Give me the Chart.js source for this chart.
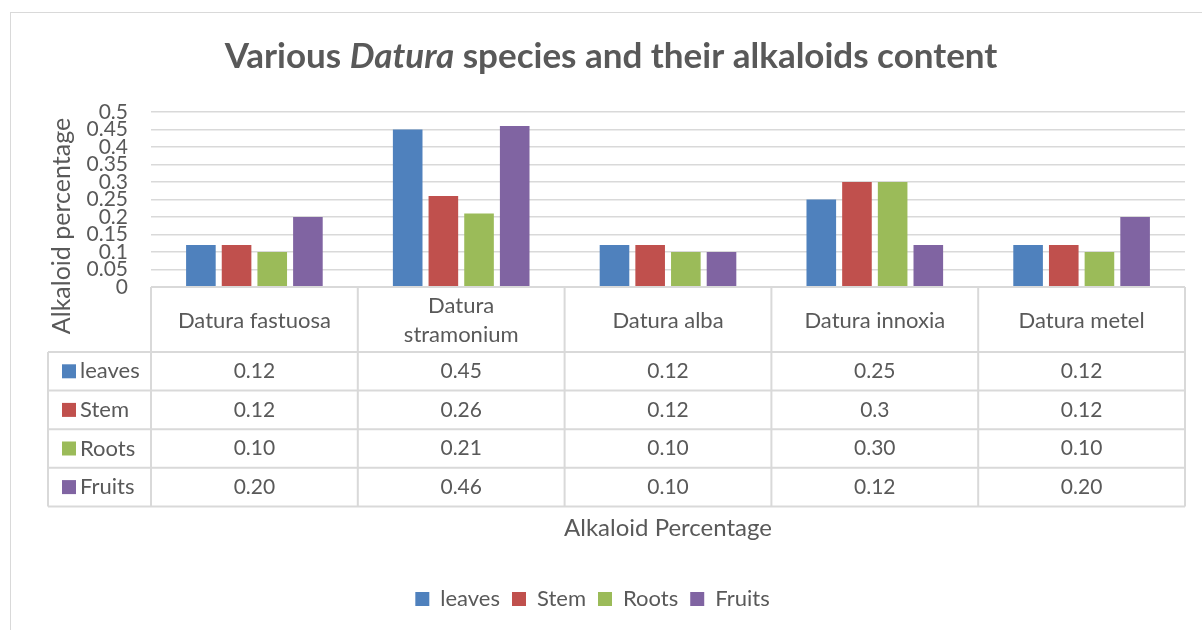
<!DOCTYPE html>
<html><head><meta charset="utf-8">
<script src="https://cdn.jsdelivr.net/npm/chart.js@4"></script>
<style>html,body{margin:0;padding:0;background:#fff}#wrap{width:1202px;height:630px}</style>
</head><body><div id="wrap"><canvas id="c" width="1202" height="630"></canvas></div>
<script>
const categories = ['Datura fastuosa', 'Datura stramonium', 'Datura alba', 'Datura innoxia', 'Datura metel'];
const categoryLines = [['Datura fastuosa'], ['Datura', 'stramonium'], ['Datura alba'], ['Datura innoxia'], ['Datura metel']];
const seriesNames = ['leaves', 'Stem', 'Roots', 'Fruits'];
const leaves = [0.12, 0.45, 0.12, 0.25, 0.12];
const stem = [0.12, 0.26, 0.12, 0.30, 0.12];
const roots = [0.10, 0.21, 0.10, 0.30, 0.10];
const fruits = [0.20, 0.46, 0.10, 0.12, 0.20];
const leavesText = ['0.12', '0.45', '0.12', '0.25', '0.12'];
const stemText = ['0.12', '0.26', '0.12', '0.3', '0.12'];
const rootsText = ['0.10', '0.21', '0.10', '0.30', '0.10'];
const fruitsText = ['0.20', '0.46', '0.10', '0.12', '0.20'];
const yTickLabels = ['0', '0.05', '0.1', '0.15', '0.2', '0.25', '0.3', '0.35', '0.4', '0.45', '0.5'];
const colors = ['#4f81bd', '#c0504d', '#9bbb59', '#8064a2'];
const titleParts = [['Various ', 'normal'], ['Datura', 'italic'], [' species and their alkaloids content', 'normal']];
const yTitle = 'Alkaloid percentage';
const xTitle = 'Alkaloid Percentage';

const FONT = 'Lato';
const TXT = '#595959';
const LINE = '#d9d9d9';

const seriesValues = [leaves, stem, roots, fruits];
const seriesText = [leavesText, stemText, rootsText, fruitsText];

const decor = {
  id: 'decor',
  beforeDraw(chart) {
    const ctx = chart.ctx;
    ctx.save();
    ctx.fillStyle = '#fff';
    ctx.fillRect(0, 0, chart.width, chart.height);
    ctx.strokeStyle = LINE;
    ctx.lineWidth = 1;
    ctx.strokeRect(10.5, 12.5, 1300, 700);
    ctx.restore();
  },
  afterDraw(chart) {
    const ctx = chart.ctx;
    const area = chart.chartArea;
    const xs = chart.scales.x;
    const n = categories.length;
    const cw = (area.right - area.left) / n;
    ctx.save();
    // title
    ctx.fillStyle = TXT;
    ctx.textBaseline = 'middle';
    let total = 0;
    const widths = titleParts.map(([t, s]) => {
      ctx.font = `${s} bold 35px ${FONT}`;
      const w = ctx.measureText(t).width; total += w; return w;
    });
    let tx = 611 - total / 2;
    titleParts.forEach(([t, s], i) => {
      ctx.font = `${s} bold 35px ${FONT}`;
      ctx.textAlign = 'left';
      ctx.fillText(t, tx, 57);
      tx += widths[i];
    });
    // y title
    ctx.save();
    ctx.translate(62, 226);
    ctx.rotate(-Math.PI / 2);
    ctx.font = `25px ${FONT}`;
    ctx.textAlign = 'center';
    ctx.fillText(yTitle, 0, 0);
    ctx.restore();
    // table
    const top = area.bottom;
    const headBottom = top + 65;
    const rowH = 38.6;
    const tableLeft = 48;
    const bottom = headBottom + rowH * seriesNames.length;
    ctx.strokeStyle = LINE;
    ctx.lineWidth = 2;
    ctx.beginPath();
    ctx.moveTo(area.left, top); ctx.lineTo(area.right, top);
    for (let k = 0; k <= seriesNames.length; k++) {
      const y = headBottom + rowH * k;
      ctx.moveTo(tableLeft, y); ctx.lineTo(area.right, y);
    }
    for (let i = 0; i <= n; i++) {
      const x = area.left + cw * i;
      ctx.moveTo(x, top); ctx.lineTo(x, bottom);
    }
    ctx.moveTo(tableLeft, headBottom); ctx.lineTo(tableLeft, bottom);
    ctx.stroke();
    // header
    ctx.fillStyle = TXT;
    ctx.textAlign = 'center';
    ctx.textBaseline = 'middle';
    ctx.font = `22px ${FONT}`;
    categoryLines.forEach((lines, i) => {
      const cx = xs.getPixelForValue(i);
      const cy = (top + headBottom) / 2 + 1;
      const lh = 29;
      lines.forEach((ln, j) => {
        ctx.fillText(ln, cx, cy + (j - (lines.length - 1) / 2) * lh);
      });
    });
    // rows
    seriesNames.forEach((name, r) => {
      const cy = headBottom + rowH * r + rowH / 2;
      ctx.fillStyle = colors[r];
      ctx.fillRect(62, cy - 7, 14, 14);
      ctx.fillStyle = TXT;
      ctx.textAlign = 'left';
      ctx.font = `22px ${FONT}`;
      ctx.fillText(name, 80, cy);
      ctx.textAlign = 'center';
      ctx.font = `21px ${FONT}`;
      seriesText[r].forEach((t, i) => {
        ctx.fillText(t, xs.getPixelForValue(i), cy);
      });
    });
    ctx.restore();
  }
};

new Chart(document.getElementById('c'), {
  type: 'bar',
  data: {
    labels: categories,
    datasets: seriesNames.map((name, i) => ({
      label: name,
      data: seriesValues[i],
      backgroundColor: colors[i],
      borderWidth: 0,
      categoryPercentage: 0.69,
      barPercentage: 0.83
    }))
  },
  options: {
    responsive: false,
    animation: false,
    layout: { padding: { left: 0, right: 17, top: 112, bottom: 10 } },
    plugins: {
      title: { display: false },
      tooltip: { enabled: false },
      legend: {
        position: 'bottom',
        labels: {
          boxWidth: 14, boxHeight: 14, padding: 12,
          color: TXT, font: { family: FONT, size: 22 }
        }
      }
    },
    scales: {
      x: {
        grid: { display: false, drawTicks: false },
        border: { display: false },
        ticks: { display: false },
        title: {
          display: true, text: xTitle, color: TXT,
          font: { family: FONT, size: 24 },
          padding: { top: 0, bottom: 33 }
        },
        afterFit: (s) => { s.height = 289; }
      },
      y: {
        min: 0, max: 0.5,
        ticks: {
          stepSize: 0.05, autoSkip: false,
          callback: (v) => yTickLabels[Math.round(v / 0.05)],
          color: TXT, font: { family: FONT, size: 21 }, padding: 23
        },
        grid: { color: LINE, lineWidth: 1.5, drawTicks: false },
        border: { display: false },
        afterFit: (s) => { s.width = 151; }
      }
    }
  },
  plugins: [decor]
});
</script>
</body></html>
